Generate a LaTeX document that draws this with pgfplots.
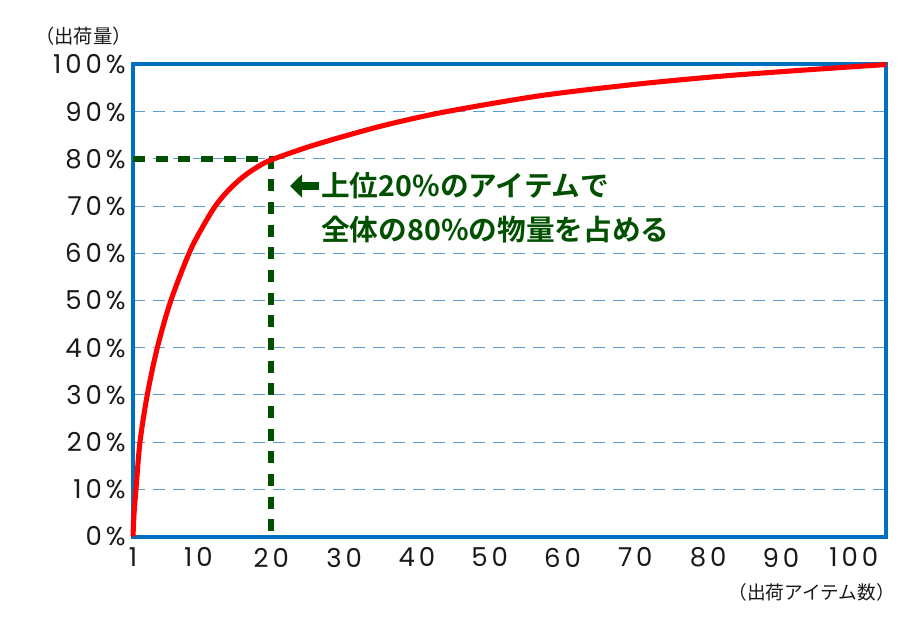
\documentclass[border=0pt]{standalone}
\usepackage{fontspec}
\setmainfont{Poppins}
\newfontfamily\tickfont{Poppins}[LetterSpace=15]
\newfontfamily\jp{Noto Sans CJK JP}[BoldFont={Noto Sans CJK JP Bold}]
\usepackage{pgfplots}
\usepackage{pgfplotstable}
\pgfplotsset{compat=1.18}
\usetikzlibrary{arrows.meta}
\definecolor{axisblue}{RGB}{0,112,192}
\definecolor{gridblue}{RGB}{91,155,213}
\definecolor{dgreen}{RGB}{0,80,0}

\pgfplotstableread{
x y
1 0
1.15 5
1.41 10
1.96 20
2.96 30
4.34 40
6.2 50
8.7 60
10.35 65
12.3 70
14.2 73.5
16.2 76.3
18.1 78.3
20 79.8
25 82.5
30 84.8
36 87.3
44 90.0
57 93.4
70 95.8
81.6 97.5
93 98.8
104.5 100
}\curve

\begin{document}
\begin{tikzpicture}[x=0.75pt,y=0.75pt]
\path[use as bounding box] (0,0) rectangle (924,633);
\begin{axis}[
  at={(99.75pt,72.375pt)}, anchor=south west,
  scale only axis, width=565.1pt, height=354pt,
  xmin=1, xmax=104.5, ymin=0, ymax=100,
  xtick={1,10,20,30,40,50,60,70,80,90,100},
  xticklabels={1,10,20,30,40,50,60,70,80,90,100},
  ytick={0,10,20,30,40,50,60,70,80,90,100},
  yticklabels={0\%,10\%,20\%,30\%,40\%,50\%,60\%,70\%,80\%,90\%,100\%},
  major tick length=0pt,
  axis line style={axisblue, line width=3pt},
  ymajorgrids,
  grid style={gridblue, line width=0.8pt, dash pattern=on 9pt off 6pt},
  ticklabel style={font=\tickfont\fontsize{19.5}{19.5}\selectfont, text=black!90},
  x tick label style={yshift=-5pt},
  y tick label style={xshift=-2pt},
  clip=false,
]
\addplot[dgreen, line width=4.5pt, dash pattern=on 9pt off 8pt] coordinates {(1,80) (20,80) (20,0)};
\addplot[red, line width=3.8pt, smooth, tension=0.5] table[x=x,y=y] {\curve};
\end{axis}
\draw[dgreen, line width=6pt, -{Triangle[length=9pt, width=17pt]}] (319,447) -- (290,447);
\node[anchor=west, inner sep=0, text=dgreen, font=\jp\bfseries\fontsize{21.5}{21.5}\selectfont] at (321,447) {上位20\%のアイテムで};
\node[anchor=west, inner sep=0, text=dgreen, font=\jp\bfseries\fontsize{21.5}{21.5}\selectfont] at (321,403) {全体の80\%の物量を占める};
\node[anchor=east, inner sep=0, text=black!90, font=\jp\fontsize{14.5}{14.5}\selectfont] at (132,597) {（出荷量）};
\node[anchor=east, inner sep=0, text=black!90, font=\jp\fontsize{14}{14}\selectfont] at (895,41) {（出荷アイテム数）};
\end{tikzpicture}
\end{document}
